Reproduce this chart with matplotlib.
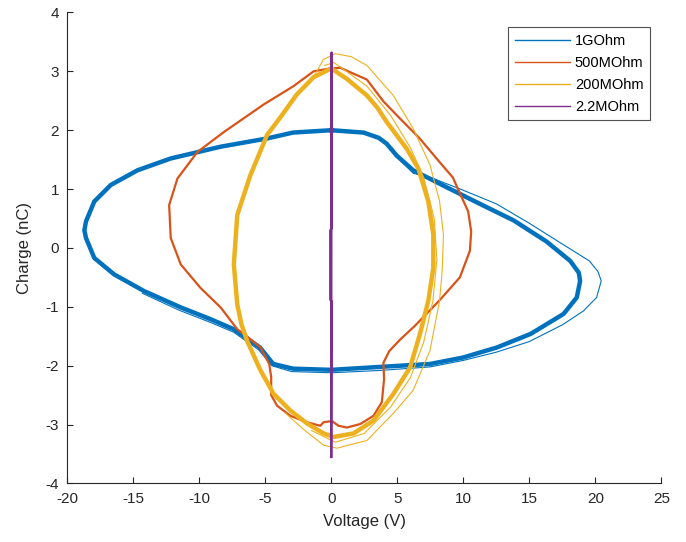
import matplotlib
matplotlib.use('Agg')
import matplotlib.pyplot as plt

# MATLAB default colours
c_blue = '#0072BD'
c_orange = '#D95319'
c_yellow = '#EDB120'
c_purple = '#7E2F8E'

labels = ['1GOhm', '500MOhm', '200MOhm', '2.2MOhm']

# 1GOhm - main loop (many cycles on top of each other)
v_1g = [0.0, 2.45, 3.6, 4.2, 4.95, 6.2, 8.75, 11.25, 13.8, 16.3, 18.1, 18.75, 18.85, 18.6,
        17.6, 15.1, 12.55, 10.0, 7.5, 3.7, 0.0, -2.9, -4.4, -5.4, -7.38, -9.14, -11.4,
        -14.2, -16.44, -17.95, -18.58, -18.7, -18.58, -17.95, -16.7, -14.67, -12.16,
        -8.38, -4.86, -2.9, 0.0]
q_1g = [2.0, 1.96, 1.87, 1.77, 1.57, 1.32, 1.03, 0.75, 0.47, 0.11, -0.22, -0.42, -0.56, -0.84,
        -1.12, -1.46, -1.69, -1.86, -1.97, -2.02, -2.07, -2.05, -1.97, -1.69, -1.38, -1.21, -1.01,
        -0.73, -0.45, -0.17, 0.17, 0.3, 0.45, 0.79, 1.07, 1.32, 1.52,
        1.72, 1.86, 1.96, 2.0]
# 1GOhm - the wider first cycles
v_1g_b = [4.6, 5.2, 6.2, 7.5, 10.0, 12.5, 15.0, 17.55, 19.55, 20.2, 20.45, 20.1, 19.1,
          17.55, 15.0, 12.5, 10.0, 7.5, 3.7, 0.0, -3.0, -4.5, -5.5, -7.4, -9.2, -11.5, -14.3]
q_1g_b = [1.7, 1.5, 1.27, 1.2, 0.98, 0.75, 0.42, 0.06, -0.22, -0.4, -0.56, -0.84, -1.07,
          -1.3, -1.59, -1.77, -1.91, -2.02, -2.08, -2.12, -2.1, -2.0, -1.73, -1.43, -1.26, -1.06, -0.77]

# 500MOhm
v_500 = [0.68, 2.7, 3.95, 5.2, 6.7, 8.2, 9.2, 9.6, 10.37, 10.6, 10.5, 9.74, 8.2, 6.3,
         5.2, 4.4, 3.95, 4.0, 3.83, 3.2, 2.2, 1.19, 0.55, 0.05, -0.58, -0.83, -1.84, -3.1,
         -4.1, -4.55, -4.55, -4.7, -5.36, -6.4, -7.12, -8.38, -9.9, -11.4, -12.16, -12.28,
         -11.65, -10.14, -8.13, -5.1, -2.85, -1.34, -0.08, 0.68]
q_500 = [3.06, 2.86, 2.49, 2.2, 1.86, 1.46, 1.2, 1.0, 0.62, 0.28, -0.05, -0.5, -0.89, -1.33,
         -1.56, -1.75, -1.95, -2.23, -2.62, -2.85, -2.99, -3.05, -3.02, -2.94, -2.96, -3.02, -2.96, -2.85,
         -2.68, -2.5, -2.19, -1.97, -1.69, -1.5, -1.38, -1.01, -0.68, -0.28, 0.17, 0.73,
         1.18, 1.63, 1.97, 2.44, 2.75, 3.0, 3.05, 3.06]

# 200MOhm - main loop
v_200 = [0.0, 1.19, 2.7, 3.5, 4.2, 5.7, 6.6, 7.35, 7.73, 7.73, 7.35, 6.72, 5.97, 4.7,
         3.2, 1.69, 0.18, -0.58, -1.84, -3.1, -4.36, -5.36, -6.37, -6.8, -7.12, -7.38,
         -7.12, -6.12, -4.86, -3.85, -2.6, -1.34, 0.0]
q_200 = [3.05, 2.87, 2.59, 2.38, 2.14, 1.69, 1.35, 0.79, 0.23, -0.34, -0.9, -1.46, -2.03, -2.48,
         -2.93, -3.15, -3.21, -3.15, -2.98, -2.76, -2.48, -2.08, -1.58, -1.3, -0.96, -0.28,
         0.56, 1.24, 1.92, 2.22, 2.61, 2.9, 3.05]
# 200MOhm - outer cycles
v_200_b = [-1.34, -0.6, 0.3, 1.5, 2.7, 4.7, 6.2, 7.48, 8.2, 8.5, 8.4, 8.2, 7.48, 6.2,
           4.7, 2.7, 0.43, -0.58, -2.0, -3.5]
q_200_b = [2.9, 3.2, 3.3, 3.25, 3.1, 2.59, 2.03, 1.41, 0.8, 0.23, -0.4, -0.9, -1.74, -2.42,
           -2.81, -3.27, -3.4, -3.35, -3.1, -2.8]
v_200_c = [-0.5, 0.2, 2.7, 4.5, 6.0, 7.0, 7.8, 8.0, 7.7, 7.0, 6.0, 4.5, 2.5, 0.3, -1.5]
q_200_c = [3.1, 3.15, 2.75, 2.25, 1.7, 1.2, 0.5, -0.2, -0.9, -1.6, -2.2, -2.7, -3.15, -3.3, -3.1]

# 2.2MOhm
v_2m = [0.0, 0.02, 0.02, -0.08, -0.08, 0.02, 0.0]
q_2m = [-3.55, 3.32, 0.33, 0.3, -0.88, -0.9, -3.55]

plt.rcParams['font.family'] = ['Liberation Sans', 'DejaVu Sans']
plt.rcParams['axes.unicode_minus'] = False

fig = plt.figure(figsize=(6.86, 5.42), dpi=100)
ax = fig.add_axes([0.098, 0.108, 0.866, 0.869])

ax.plot(v_1g, q_1g, color=c_blue, lw=3.2, label=labels[0])
ax.plot(v_1g_b, q_1g_b, color=c_blue, lw=0.8)
ax.plot(v_500, q_500, color=c_orange, lw=1.6, label=labels[1])
ax.plot(v_200_b, q_200_b, color=c_yellow, lw=0.8)
ax.plot(v_200_c, q_200_c, color=c_yellow, lw=0.8)
ax.plot(v_200, q_200, color=c_yellow, lw=3.2, label=labels[2])
ax.plot(v_2m, q_2m, color=c_purple, lw=1.6, label=labels[3])

ax.set_xlim(-20, 25)
ax.set_ylim(-4, 4)
ax.set_xticks(range(-20, 26, 5))
ax.set_yticks(range(-4, 5, 1))
ax.set_xlabel('Voltage (V)', fontsize=12, color='0.15', labelpad=6)
ax.set_ylabel('Charge (nC)', fontsize=12, color='0.15', labelpad=10)

for s in ['top', 'right']:
    ax.spines[s].set_visible(False)
for s in ['left', 'bottom']:
    ax.spines[s].set_color('0.15')
    ax.spines[s].set_linewidth(0.8)
ax.tick_params(direction='in', length=4, width=0.8, colors='0.15', labelsize=11)
ax.tick_params(axis='x', pad=6)
ax.tick_params(axis='y', pad=6)

leg = ax.legend(loc='upper right', bbox_to_anchor=(0.981, 0.969), fontsize=10.5,
                frameon=True, fancybox=False, handlelength=3.8, handletextpad=0.3,
                borderpad=0.45, labelspacing=0.55, borderaxespad=0)
leg.get_frame().set_edgecolor('0.15')
leg.get_frame().set_linewidth(0.8)
for h in leg.get_lines():
    h.set_linewidth(1.0)

fig.savefig('out.png', dpi=100)
